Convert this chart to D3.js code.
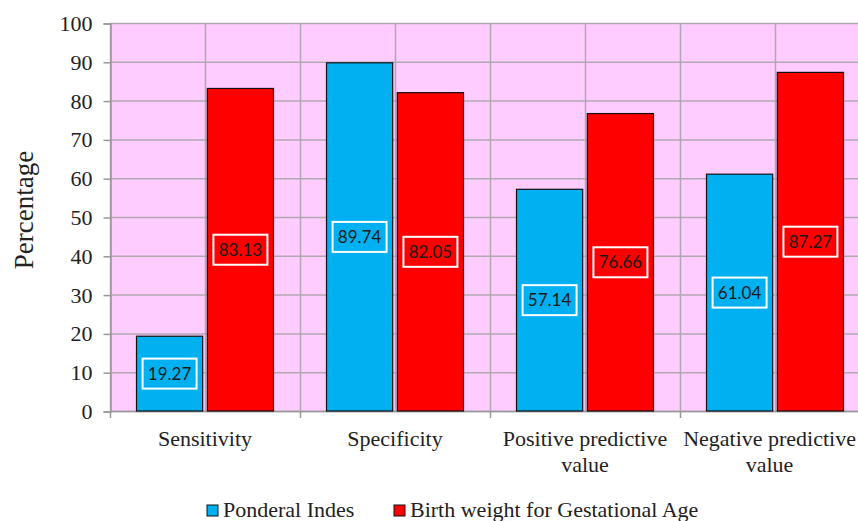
<!DOCTYPE html>
<html>
<head>
<meta charset="utf-8">
<script src="https://cdn.jsdelivr.net/npm/d3@7"></script>
<style>
  html, body { margin: 0; padding: 0; background: #fff; }
  svg { display: block; }
</style>
</head>
<body>
<svg id="chart" width="858" height="521"></svg>
<script>
// Diagnostic performance of two indices (percent)
const categories = ["Sensitivity", "Specificity", "Positive predictive value", "Negative predictive value"];
const categoryLines = [["Sensitivity"], ["Specificity"], ["Positive predictive", "value"], ["Negative predictive", "value"]];
const seriesNames = ["Ponderal Indes", "Birth weight for Gestational Age"];
const ponderalIndex = [19.27, 89.74, 57.14, 61.04];
const birthWeightGA = [83.13, 82.05, 76.66, 87.27];
const yTicks = [0, 10, 20, 30, 40, 50, 60, 70, 80, 90, 100];
const colors = ["#00B0F0", "#FF0000"];

const serif = "'Liberation Serif', 'Times New Roman', serif";
const W = 858;
const svg = d3.select("#chart");
const margin = { left: 110, top: 23, bottom: 411, right: 870 };

const x = d3.scaleBand().domain(categories).range([margin.left, margin.right]).paddingInner(0).paddingOuter(0);
const y = d3.scaleLinear().domain([0, 100]).range([margin.bottom, margin.top]);
const inner = d3.scaleBand().domain(seriesNames).range([26.5, x.bandwidth() - 26.5]).paddingInner(9 / 137);

// plot background
svg.append("rect")
  .attr("x", margin.left).attr("y", margin.top)
  .attr("width", margin.right - margin.left).attr("height", margin.bottom - margin.top)
  .attr("fill", "#FFCCFF");

const gridColor = "#B0A8B0";
// horizontal gridlines
svg.append("g").selectAll("line").data(yTicks).join("line")
  .attr("x1", margin.left).attr("x2", margin.right)
  .attr("y1", d => y(d) + 0.5).attr("y2", d => y(d) + 0.5)
  .attr("stroke", gridColor).attr("stroke-width", 1.5);

// vertical gridlines at category boundaries and centres
const vLines = [];
categories.forEach(c => { vLines.push(x(c)); vLines.push(x(c) + x.bandwidth() / 2); });
vLines.push(margin.right);
svg.append("g").selectAll("line").data(vLines).join("line")
  .attr("x1", d => d + 0.5).attr("x2", d => d + 0.5)
  .attr("y1", margin.top).attr("y2", margin.bottom)
  .attr("stroke", gridColor).attr("stroke-width", 1.5);

// y axis
const yAxis = d3.axisLeft(y).tickValues(yTicks).tickSize(7).tickPadding(11);
const gy = svg.append("g").attr("transform", `translate(${margin.left + 0.5},0.5)`).call(yAxis);
gy.select(".domain").attr("stroke", "#999").attr("stroke-width", 1.5);
gy.selectAll(".tick line").attr("stroke", "#999").attr("stroke-width", 1.5);
gy.selectAll(".tick text")
  .attr("font-family", serif)
  .attr("font-size", 22).attr("fill", "#222");

// x axis with ticks at category boundaries
const gx = svg.append("g");
gx.append("line")
  .attr("x1", margin.left).attr("x2", margin.right)
  .attr("y1", margin.bottom + 0.5).attr("y2", margin.bottom + 0.5)
  .attr("stroke", "#999").attr("stroke-width", 1.5);
gx.selectAll("line.tk").data(categories).join("line").attr("class", "tk")
  .attr("x1", d => x(d) + 0.5).attr("x2", d => x(d) + 0.5)
  .attr("y1", margin.bottom).attr("y2", margin.bottom + 7)
  .attr("stroke", "#999").attr("stroke-width", 1.5);
const catLabels = gx.selectAll("text").data(categories).join("text")
  .attr("text-anchor", "middle")
  .attr("font-family", serif)
  .attr("font-size", 22).attr("fill", "#222");
catLabels.each(function (d, i) {
  const t = d3.select(this);
  const spans = categoryLines[i].map((line, k) =>
    t.append("tspan").attr("y", 446 + k * 26).text(line));
  // keep each label inside the visible width
  const widest = d3.max(spans, s => s.node().getComputedTextLength());
  const cx = Math.min(x(d) + x.bandwidth() / 2, W - 2 - widest / 2);
  spans.forEach(s => s.attr("x", cx));
});

// y axis title
svg.append("text")
  .attr("transform", "translate(33,210) rotate(-90)")
  .attr("text-anchor", "middle")
  .attr("font-family", serif)
  .attr("font-size", 27).attr("fill", "#222")
  .text("Percentage");

// bars
const rows = categories.map((c, i) => ({ cat: c, values: [ponderalIndex[i], birthWeightGA[i]] }));
const groups = svg.append("g").selectAll("g").data(rows).join("g")
  .attr("transform", d => `translate(${x(d.cat)},0)`);

const barData = d => d.values.map((v, j) => ({ series: seriesNames[j], value: v, color: colors[j] }));
groups.selectAll("rect.bar").data(barData).join("rect").attr("class", "bar")
  .attr("x", d => inner(d.series))
  .attr("width", inner.bandwidth())
  .attr("y", d => y(d.value))
  .attr("height", d => y(0) - y(d.value))
  .attr("fill", d => d.color)
  .attr("stroke", "#111").attr("stroke-width", 1.2);

// value labels in white-bordered boxes at bar mid-height
const boxW = 54, boxH = 30;
const lbl = groups.selectAll("g.lbl").data(barData).join("g").attr("class", "lbl")
  .attr("transform", d => `translate(${inner(d.series) + inner.bandwidth() / 2},${y(d.value / 2)})`);
lbl.append("rect")
  .attr("x", -boxW / 2).attr("y", -boxH / 2)
  .attr("width", boxW).attr("height", boxH)
  .attr("fill", "none").attr("stroke", "#fff").attr("stroke-width", 2);
lbl.append("text")
  .attr("text-anchor", "middle").attr("dy", "0.36em")
  .attr("font-family", "Lato, 'Open Sans', sans-serif")
  .attr("font-size", 17).attr("fill", "#1a1a1a")
  .text(d => d.value.toFixed(2));

// legend
const legendItems = [{ name: seriesNames[0], color: colors[0], x: 207 }, { name: seriesNames[1], color: colors[1], x: 394 }];
const lg = svg.append("g").selectAll("g").data(legendItems).join("g")
  .attr("transform", d => `translate(${d.x},0)`);
lg.append("rect").attr("x", 0).attr("y", 505).attr("width", 11).attr("height", 11)
  .attr("fill", d => d.color).attr("stroke", "#111").attr("stroke-width", 1);
lg.append("text").attr("x", 16).attr("y", 517)
  .attr("font-family", serif)
  .attr("font-size", 22).attr("fill", "#222")
  .text(d => d.name);
</script>
</body>
</html>
